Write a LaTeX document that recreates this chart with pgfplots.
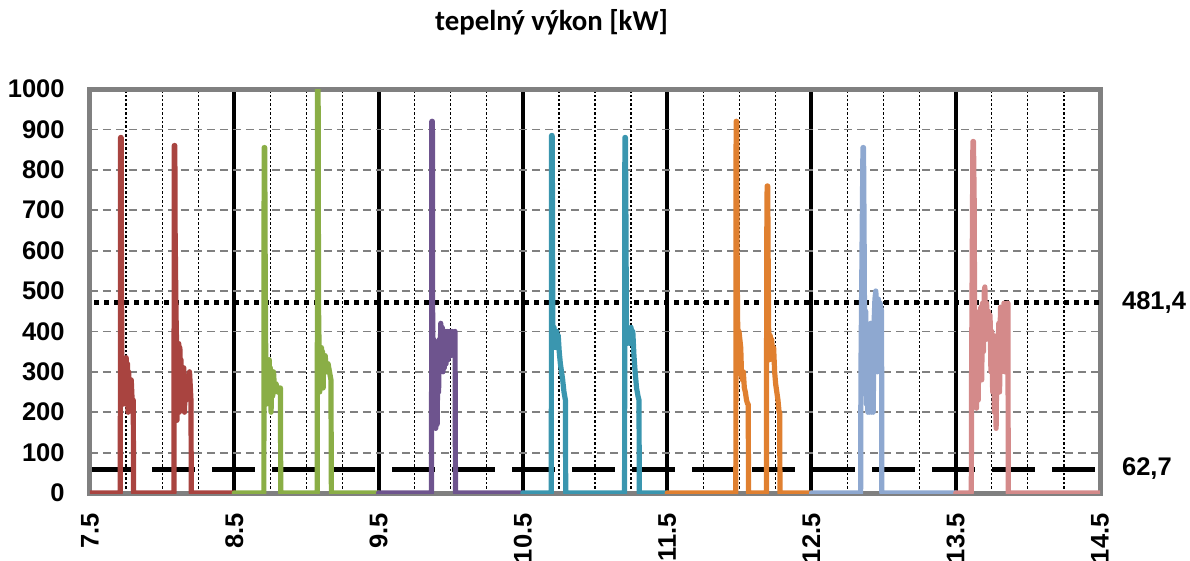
\documentclass[border=0pt]{standalone}
\usepackage{pgfplots}
\pgfplotsset{compat=1.18}
\usepackage{fontspec}
\setmainfont{Liberation Sans}
\newfontfamily\calib{Carlito}
\definecolor{cRed}{RGB}{169,68,64}
\definecolor{cGreen}{RGB}{138,174,70}
\definecolor{cPurple}{RGB}{110,84,142}
\definecolor{cTeal}{RGB}{58,150,175}
\definecolor{cOrange}{RGB}{224,128,48}
\definecolor{cBlue}{RGB}{142,168,208}
\definecolor{cPink}{RGB}{212,138,138}
\definecolor{frameGray}{RGB}{128,128,128}
\tikzset{ser/.style={line width=2.6pt, line join=round, line cap=round}}
\begin{document}
\begin{tikzpicture}
\begin{axis}[
  scale only axis,
  width=505pt, height=202pt,
  xmin=7.5, xmax=14.5, ymin=0, ymax=1000,
  xtick={7.5,8.5,9.5,10.5,11.5,12.5,13.5,14.5},
  xticklabels={7.5,8.5,9.5,10.5,11.5,12.5,13.5,14.5},
  minor x tick num=3,
  ytick={0,100,...,1000},
  yticklabel style={/pgf/number format/1000 sep={}},
  major tick length=0pt, minor tick length=0pt,
  xmajorgrids, xminorgrids, ymajorgrids,
  major x grid style={black, line width=2pt},
  minor x grid style={black, line width=0.6pt, dash pattern=on 1.2pt off 1pt},
  major y grid style={frameGray, line width=0.9pt, dash pattern=on 4pt off 2.5pt},
  axis line style={frameGray, line width=2.5pt},
  /pgf/number format/assume math mode=true,
  ticklabel style={font=\fontsize{12.75}{14}\selectfont\bfseries, inner sep=0pt},
  xticklabel style={rotate=90, anchor=east},
  xticklabel shift=10pt,
  yticklabel shift=12.5pt,
  clip mode=individual,
]
% reference lines
\addplot[black, line width=2.5pt, dash pattern=on 2.5pt off 2.5pt] coordinates {(7.53,472) (14.5,472)};
\addplot[black, line width=2.5pt, dash pattern=on 21.5pt off 8.5pt] coordinates {(7.515,58) (14.5,58)};
% red
\addplot[cRed, ser] coordinates {
(7.5,0) (7.71,0) (7.712,880) (7.716,880) (7.718,600) (7.72,400) (7.723,230) (7.727,300) (7.731,220) (7.735,320) (7.739,250) (7.743,330) (7.747,280) (7.751,335) (7.755,250) (7.76,320) (7.764,200) (7.768,300) (7.772,220) (7.776,280) (7.78,230) (7.786,280) (7.792,230) (7.80,230) (7.802,0)
(8.082,0) (8.084,860) (8.088,860) (8.09,650) (8.096,450) (8.1,370) (8.103,180) (8.107,350) (8.111,250) (8.115,370) (8.119,200) (8.123,360) (8.127,260) (8.131,330) (8.135,210) (8.14,300) (8.145,250) (8.15,310) (8.155,200) (8.16,280) (8.166,230) (8.172,290) (8.18,240) (8.19,300) (8.2,230) (8.202,0) (8.5,0)};
% green
\addplot[cGreen, ser] coordinates {
(8.5,0) (8.705,0) (8.707,855) (8.711,855) (8.715,500) (8.718,340) (8.722,220) (8.726,330) (8.73,240) (8.734,300) (8.738,230) (8.742,330) (8.746,260) (8.75,310) (8.755,200) (8.76,280) (8.766,240) (8.772,300) (8.78,250) (8.79,270) (8.80,250) (8.81,260) (8.82,260) (8.822,0)
(9.075,0) (9.077,1010) (9.081,1010) (9.084,460) (9.088,350) (9.092,250) (9.096,350) (9.1,280) (9.104,360) (9.108,300) (9.112,350) (9.116,260) (9.12,340) (9.125,300) (9.13,340) (9.14,300) (9.15,320) (9.16,300) (9.17,280) (9.173,0) (9.5,0)};
% purple
\addplot[cPurple, ser] coordinates {
(9.5,0) (9.867,0) (9.869,920) (9.873,920) (9.875,400) (9.879,250) (9.883,380) (9.887,200) (9.891,320) (9.896,160) (9.901,300) (9.906,170) (9.911,340) (9.916,250) (9.921,380) (9.926,300) (9.931,420) (9.936,330) (9.941,410) (9.946,300) (9.951,400) (9.956,310) (9.962,400) (9.968,320) (9.975,400) (9.982,330) (9.99,400) (10.0,340) (10.01,400) (10.02,350) (10.03,400) (10.033,0) (10.5,0)};
% teal
\addplot[cTeal, ser] coordinates {
(10.5,0) (10.697,0) (10.699,885) (10.703,885) (10.705,750) (10.708,400) (10.712,360) (10.716,410) (10.72,380) (10.725,400) (10.73,360) (10.735,400) (10.74,380) (10.745,390) (10.752,350) (10.76,320) (10.768,300) (10.776,280) (10.785,250) (10.795,230) (10.797,0)
(11.205,0) (11.207,880) (11.211,880) (11.214,700) (11.218,400) (11.222,370) (11.227,410) (11.232,380) (11.238,400) (11.244,370) (11.25,410) (11.256,380) (11.262,400) (11.27,340) (11.278,300) (11.288,260) (11.298,240) (11.305,230) (11.307,0) (11.5,0)};
% orange
\addplot[cOrange, ser] coordinates {
(11.5,0) (11.976,0) (11.978,920) (11.982,920) (11.984,650) (11.988,430) (11.993,380) (11.998,400) (12.004,380) (12.01,360) (12.016,290) (12.022,280) (12.028,300) (12.035,260) (12.042,250) (12.05,230) (12.058,220) (12.062,220) (12.064,0)
(12.188,0) (12.19,610) (12.193,760) (12.197,760) (12.2,580) (12.204,380) (12.209,330) (12.214,390) (12.219,350) (12.225,380) (12.231,330) (12.238,360) (12.245,300) (12.252,270) (12.26,250) (12.268,230) (12.276,200) (12.28,200) (12.282,0) (12.5,0)};
% light blue
\addplot[cBlue, ser] coordinates {
(12.5,0) (12.841,0) (12.843,300) (12.857,855) (12.861,855) (12.865,640) (12.868,420) (12.872,300) (12.876,450) (12.881,220) (12.886,400) (12.891,200) (12.896,350) (12.901,200) (12.906,300) (12.911,420) (12.916,200) (12.922,300) (12.928,200) (12.934,420) (12.94,480) (12.946,500) (12.952,460) (12.958,300) (12.964,480) (12.97,400) (12.976,470) (12.981,460) (12.986,450) (12.988,0) (13.5,0)};
% pink
\addplot[cPink, ser] coordinates {
(13.5,0) (13.608,0) (13.61,300) (13.619,870) (13.623,870) (13.628,720) (13.632,300) (13.638,450) (13.644,210) (13.65,400) (13.656,230) (13.662,440) (13.668,300) (13.674,460) (13.68,280) (13.686,470) (13.692,350) (13.698,500) (13.702,510) (13.708,380) (13.714,470) (13.72,390) (13.726,450) (13.732,380) (13.738,440) (13.744,300) (13.75,400) (13.756,250) (13.762,390) (13.768,200) (13.774,300) (13.78,160) (13.786,380) (13.792,300) (13.798,420) (13.804,250) (13.81,460) (13.816,300) (13.822,440) (13.828,320) (13.834,470) (13.84,300) (13.846,450) (13.852,420) (13.858,470) (13.862,470) (13.864,0) (14.5,0)};
\coordinate (tl) at (rel axis cs:-0.0891,1.2203);
\coordinate (br) at (rel axis cs:1.0891,-0.1658);
\coordinate (lab1) at (rel axis cs:1.0215,0.472);
\coordinate (lab2) at (rel axis cs:1.0215,0.06);
\coordinate (ttl) at (rel axis cs:0.457,1.166);
\end{axis}
\node[anchor=west, inner sep=0pt, font=\fontsize{12.75}{14}\selectfont\bfseries] at (lab1) {481,4};
\node[anchor=west, inner sep=0pt, font=\fontsize{12.75}{14}\selectfont\bfseries] at (lab2) {62,7};
\node[inner sep=0pt, font=\calib\fontsize{14.4}{16}\selectfont\bfseries] at (ttl) {tepelný výkon [kW]};
\pgfresetboundingbox
\path (tl) rectangle (br);
\end{tikzpicture}
\end{document}
